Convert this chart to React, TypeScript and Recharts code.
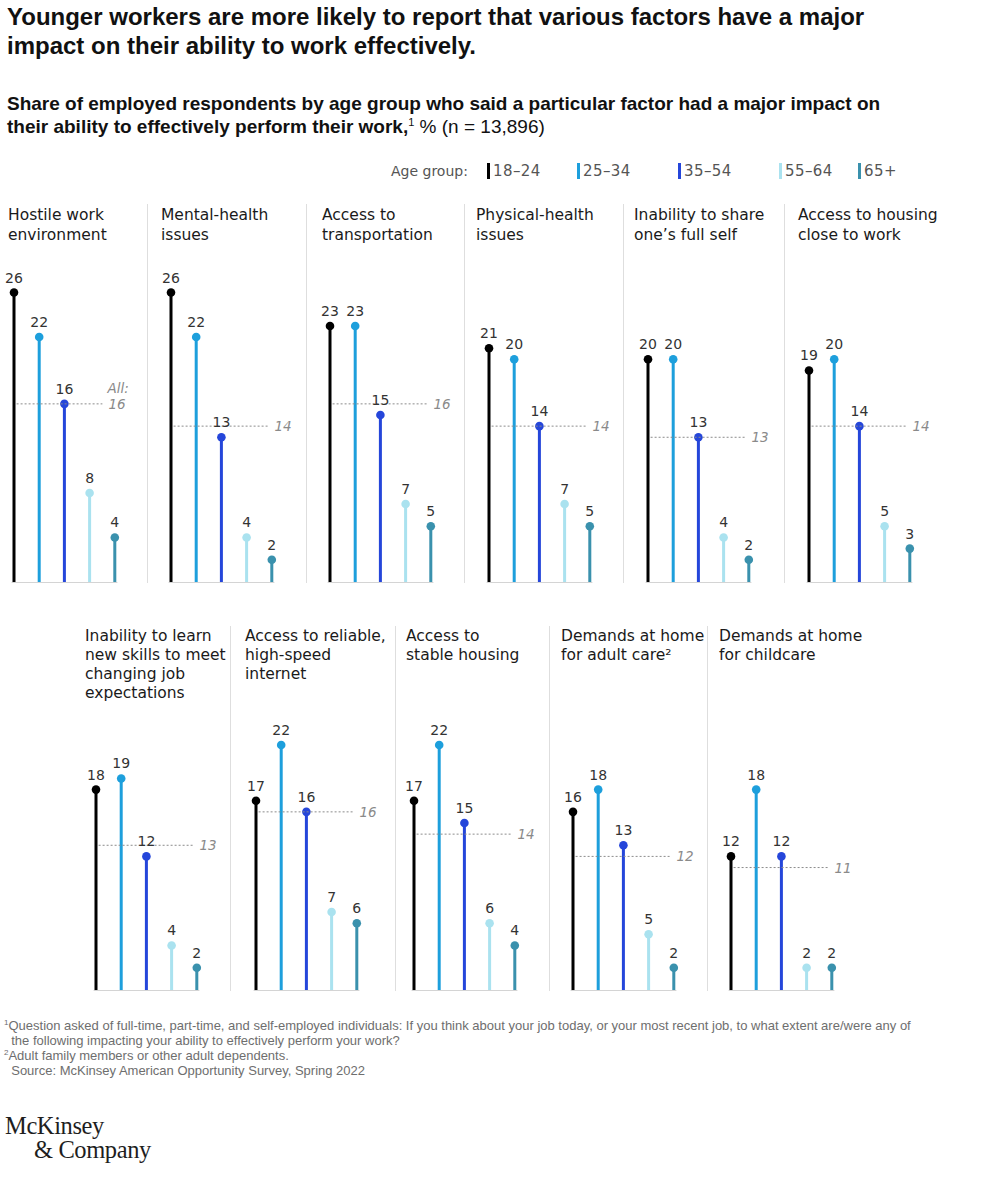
import React from 'react';
import { BarChart, Bar, XAxis, YAxis, Cell, LabelList, ReferenceLine } from 'recharts';

// age groups (x categories inside every panel)
const ageGroups = ['18–24', '25–34', '35–54', '55–64', '65+'];

// factors, one panel each
const factors = [
  'Hostile work\nenvironment',
  'Mental-health\nissues',
  'Access to\ntransportation',
  'Physical-health\nissues',
  'Inability to share\none’s full self',
  'Access to housing\nclose to work',
  'Inability to learn\nnew skills to meet\nchanging job\nexpectations',
  'Access to reliable,\nhigh-speed\ninternet',
  'Access to\nstable housing',
  'Demands at home\nfor adult care²',
  'Demands at home\nfor childcare',
];

// % reporting a major impact, by age group, in factor order
const age18to24 = [26, 26, 23, 21, 20, 19, 18, 17, 17, 16, 12];
const age25to34 = [22, 22, 23, 20, 20, 20, 19, 22, 22, 18, 18];
const age35to54 = [16, 13, 15, 14, 13, 14, 12, 16, 15, 13, 12];
const age55to64 = [8, 4, 7, 7, 4, 5, 4, 7, 6, 5, 2];
const age65plus = [4, 2, 5, 5, 2, 3, 2, 6, 4, 2, 2];
const allAges = [16, 14, 16, 14, 13, 14, 13, 16, 14, 12, 11];

const series = [age18to24, age25to34, age35to54, age55to64, age65plus];
const ageColors = ['#000000', '#1d9fdc', '#2546da', '#aae2ef', '#3a91ad'];

// layout
const BAND = 25.2;
const PLOT_H = 334;
const MAX_Y = 30;
const FONT = '"DejaVu Sans", sans-serif';
const SANS = '"Liberation Sans", Arial, sans-serif';

const topRow = { baseline: 582, titleTop: 205, lineH: 20, sepTop: 204 };
const bottomRow = { baseline: 990, titleTop: 627, lineH: 19, sepTop: 626 };
const panels = [
  { row: topRow, stem: 14, titleX: 8 },
  { row: topRow, stem: 171, titleX: 161 },
  { row: topRow, stem: 330, titleX: 322 },
  { row: topRow, stem: 489, titleX: 476 },
  { row: topRow, stem: 648, titleX: 634 },
  { row: topRow, stem: 809, titleX: 798 },
  { row: bottomRow, stem: 96, titleX: 85 },
  { row: bottomRow, stem: 256, titleX: 245 },
  { row: bottomRow, stem: 414, titleX: 406 },
  { row: bottomRow, stem: 573, titleX: 561 },
  { row: bottomRow, stem: 731, titleX: 719 },
];
const separators = [
  { x: 147, row: topRow }, { x: 306, row: topRow }, { x: 464, row: topRow },
  { x: 623, row: topRow }, { x: 784, row: topRow },
  { x: 230, row: bottomRow }, { x: 395, row: bottomRow },
  { x: 549, row: bottomRow }, { x: 707, row: bottomRow },
];

const legendItems = [487, 577, 678, 779, 858];

const Lollipop = (props: any) => {
  const { x, y, width, height, fill } = props;
  if (height == null) return null;
  const cx = x + width / 2;
  return (
    <g>
      <rect x={cx - 1.5} y={y} width={3} height={height} fill={fill} />
      <circle cx={cx} cy={y} r={4.3} fill={fill} />
    </g>
  );
};

function Panel({ index }: { index: number }) {
  const p = panels[index];
  const data = ageGroups.map((g, j) => ({ group: g, value: series[j][index] }));
  const avg = allAges[index];
  const first = index === 0;
  return (
    <div style={{ position: 'absolute', left: p.stem - BAND / 2, top: p.row.baseline - PLOT_H }}>
      <BarChart
        width={BAND * 5 + 40}
        height={PLOT_H + 2}
        data={data}
        margin={{ top: 0, right: 40, bottom: 2, left: 0 }}
        barCategoryGap={0}
      >
        <XAxis dataKey="group" hide />
        <YAxis hide domain={[0, MAX_Y]} />
        <ReferenceLine
          segment={[{ x: ageGroups[0], y: 0 }, { x: ageGroups[4], y: 0 }]}
          shape={(s: any) => (
            <line x1={s.x1 - 2} x2={s.x2 + 3} y1={s.y1 + 0.5} y2={s.y2 + 0.5} stroke="#d4d4d4" strokeWidth={1} />
          )}
        />
        <ReferenceLine
          segment={[{ x: ageGroups[0], y: avg }, { x: ageGroups[4], y: avg }]}
          shape={(s: any) => (
            <g>
              <line
                x1={s.x1 + 3}
                x2={first ? s.x2 - 12 : s.x2 - 2}
                y1={s.y1}
                y2={s.y2}
                stroke="#8c8c8c"
                strokeWidth={1}
                strokeDasharray="2 2"
              />
              {first && (
                <text x={s.x2 - 7} y={s.y1 - 11} fontSize={13.5} fontStyle="italic" fill="#8a8a8a" fontFamily={FONT}>
                  All:
                </text>
              )}
              <text x={first ? s.x2 - 6 : s.x2 + 3} y={s.y1 + 5} fontSize={13.5} fontStyle="italic" fill="#8a8a8a" fontFamily={FONT}>
                {avg}
              </text>
            </g>
          )}
        />
        <Bar dataKey="value" barSize={6} shape={<Lollipop />} isAnimationActive={false}>
          {data.map((d, j) => (
            <Cell key={d.group} fill={ageColors[j]} />
          ))}
          <LabelList dataKey="value" position="top" offset={10} fill="#333" fontSize={14} fontFamily={FONT} />
        </Bar>
      </BarChart>
    </div>
  );
}

const sup = { fontSize: 8, lineHeight: 0, verticalAlign: 'super' } as const;

export default function App() {
  return (
    <div style={{ position: 'absolute', left: 0, top: 0, width: 983, height: 1200, background: '#fff', fontFamily: FONT, color: '#1a1a1a' }}>
      <div style={{ position: 'absolute', left: 7, top: 2, fontFamily: SANS, fontWeight: 700, fontSize: 24, lineHeight: '29px', color: '#111', whiteSpace: 'nowrap' }}>
        Younger workers are more likely to report that various factors have a major
        <br />
        impact on their ability to work effectively.
      </div>
      <div style={{ position: 'absolute', left: 7, top: 92, fontFamily: SANS, fontWeight: 700, fontSize: 19, lineHeight: '23px', color: '#111', whiteSpace: 'nowrap' }}>
        Share of employed respondents by age group who said a particular factor had a major impact on
        <br />
        their ability to effectively perform their work,<span style={{ fontSize: 11, lineHeight: 0, verticalAlign: 'super', fontWeight: 400 }}>1</span>
        <span style={{ fontWeight: 400 }}> % (n = 13,896)</span>
      </div>

      {/* legend */}
      <div style={{ position: 'absolute', left: 391, top: 162, fontSize: 14, color: '#555', lineHeight: '18px' }}>Age group:</div>
      {legendItems.map((x, j) => (
        <React.Fragment key={ageGroups[j]}>
          <div style={{ position: 'absolute', left: x, top: 163, width: 3, height: 16, background: ageColors[j] }} />
          <div style={{ position: 'absolute', left: x + 6, top: 162, fontSize: 15, color: '#555', lineHeight: '18px', letterSpacing: 0.4 }}>
            {ageGroups[j]}
          </div>
        </React.Fragment>
      ))}

      {separators.map((s, k) => (
        <div key={k} style={{ position: 'absolute', left: s.x, top: s.row.sepTop, width: 1, height: s.row.baseline - s.row.sepTop + 1, background: '#dedede' }} />
      ))}

      {factors.map((f, i) => (
        <div
          key={f}
          style={{ position: 'absolute', left: panels[i].titleX, top: panels[i].row.titleTop, fontSize: 15.5, lineHeight: panels[i].row.lineH + 'px', color: '#1a1a1a', whiteSpace: 'pre' }}
        >
          {f}
        </div>
      ))}

      {factors.map((f, i) => (
        <Panel key={f} index={i} />
      ))}

      <div style={{ position: 'absolute', left: 4, top: 1018, fontFamily: SANS, fontSize: 13, lineHeight: '15px', color: '#6e6e6e', whiteSpace: 'pre' }}>
        <span style={sup}>1</span>Question asked of full-time, part-time, and self-employed individuals: If you think about your job today, or your most recent job, to what extent are/were any of
        <br />
        {'  the following impacting your ability to effectively perform your work?'}
        <br />
        <span style={sup}>2</span>Adult family members or other adult dependents.
        <br />
        {'  Source: McKinsey American Opportunity Survey, Spring 2022'}
      </div>

      <div style={{ position: 'absolute', left: 5, top: 1114, fontFamily: '"Liberation Serif", "DejaVu Serif", serif', fontSize: 24.5, lineHeight: '24px', color: '#1e1e1e', letterSpacing: -0.4 }}>
        McKinsey
        <br />
        <span style={{ paddingLeft: 29 }}>&amp; Company</span>
      </div>
    </div>
  );
}
